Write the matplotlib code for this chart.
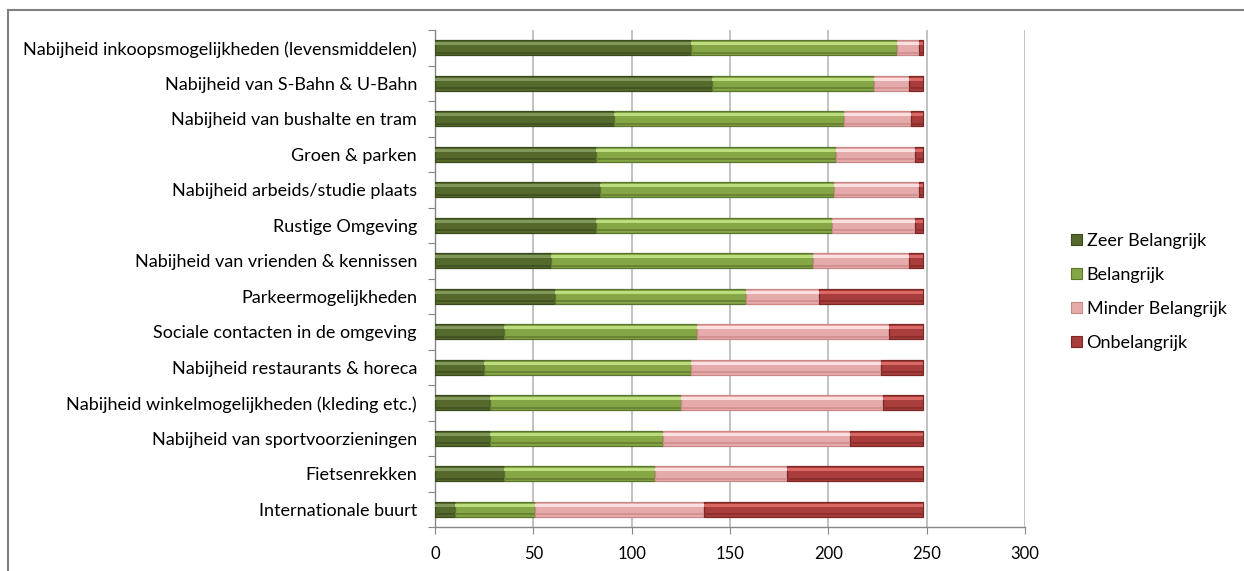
import matplotlib
matplotlib.use("Agg")
import matplotlib.pyplot as plt
import numpy as np
from matplotlib.patches import Patch
from matplotlib.lines import Line2D

categories = [
    "Nabijheid inkoopsmogelijkheden (levensmiddelen)",
    "Nabijheid van S-Bahn & U-Bahn",
    "Nabijheid van bushalte en tram",
    "Groen & parken",
    "Nabijheid arbeids/studie plaats",
    "Rustige Omgeving",
    "Nabijheid van vrienden & kennissen",
    "Parkeermogelijkheden",
    "Sociale contacten in de omgeving",
    "Nabijheid restaurants & horeca",
    "Nabijheid winkelmogelijkheden (kleding etc.)",
    "Nabijheid van sportvoorzieningen",
    "Fietsenrekken",
    "Internationale buurt",
]
zeer_belangrijk = [130, 141, 91, 82, 84, 82, 59, 61, 35, 25, 28, 28, 35, 10]
belangrijk = [105, 82, 117, 122, 119, 120, 133, 97, 98, 105, 97, 88, 77, 41]
minder_belangrijk = [11, 18, 34, 40, 43, 42, 49, 37, 98, 97, 103, 95, 67, 86]
onbelangrijk = [2, 7, 6, 4, 2, 4, 7, 53, 17, 21, 20, 37, 69, 111]
series_names = ["Zeer Belangrijk", "Belangrijk", "Minder Belangrijk", "Onbelangrijk"]
x_ticks = [0, 50, 100, 150, 200, 250, 300]

# (base, highlight, shade, edge)
styles = [
    ("#55692C", "#80965A", "#435423", "#3A4A1C"),
    ("#84A644", "#BCDC7E", "#6A8433", "#5B7430"),
    ("#E5ABAA", "#FCE0DF", "#D39291", "#C98786"),
    ("#A83D3B", "#DA6865", "#8E2F2D", "#7A2826"),
]

plt.rcParams['font.family'] = ['Lato', 'DejaVu Sans']

fig = plt.figure(figsize=(12.44, 5.71), dpi=100)
ax = fig.add_axes([435/1244, 1-527/571, (1025-435)/1244, (527-30)/571])

y = np.arange(len(categories))
h = 0.42
data = [zeer_belangrijk, belangrijk, minder_belangrijk, onbelangrijk]
left = np.zeros(len(categories))
for vals, (base, light, shade, edge) in zip(data, styles):
    vals = np.array(vals, dtype=float)
    ax.barh(y, vals, left=left, height=h, color=base, edgecolor=edge, linewidth=0.9, zorder=3)
    ax.barh(y - h*0.27, vals, left=left, height=h*0.2, color=light, linewidth=0, zorder=4)
    ax.barh(y + h*0.33, vals, left=left, height=h*0.14, color=shade, linewidth=0, zorder=4)
    left += vals

ax.set_xlim(0, 300)
ax.set_ylim(len(categories) - 0.5, -0.5)
ax.set_xticks(x_ticks)
ax.set_xticklabels([str(t) for t in x_ticks], fontsize=12)
ax.tick_params(axis='x', length=5, color='#868686', pad=9)

ax.set_yticks(np.arange(-0.5, len(categories), 1))
ax.set_yticklabels([])
ax.tick_params(axis='y', which='major', length=5, color='#868686')
ax.set_yticks(y, minor=True)
ax.set_yticklabels(categories, minor=True, fontsize=13)
ax.tick_params(axis='y', which='minor', length=0, pad=13)

ax.grid(axis='x', color='#B8B8B8', linewidth=1.2, zorder=0)
ax.set_axisbelow(True)
for s in ['top', 'right']:
    ax.spines[s].set_visible(False)
for s in ['left', 'bottom']:
    ax.spines[s].set_color('#868686')
    ax.spines[s].set_linewidth(1.0)

handles = [Patch(facecolor=st[0], edgecolor=st[3], linewidth=0.8) for st in styles]
fig.legend(handles, series_names, loc='center left', bbox_to_anchor=(1055/1244, 1-292/571),
           frameon=False, fontsize=13, handlelength=0.6, handleheight=0.6,
           handletextpad=0.25, labelspacing=1.0)

fig.add_artist(Line2D([8/1244, 1.0], [1-10/571, 1-10/571], transform=fig.transFigure,
                      color='#808080', linewidth=1.5))
fig.add_artist(Line2D([8/1244, 8/1244], [1-10/571, 0.0], transform=fig.transFigure,
                      color='#808080', linewidth=1.5))

fig.savefig("out.png", dpi=100, facecolor='white')
